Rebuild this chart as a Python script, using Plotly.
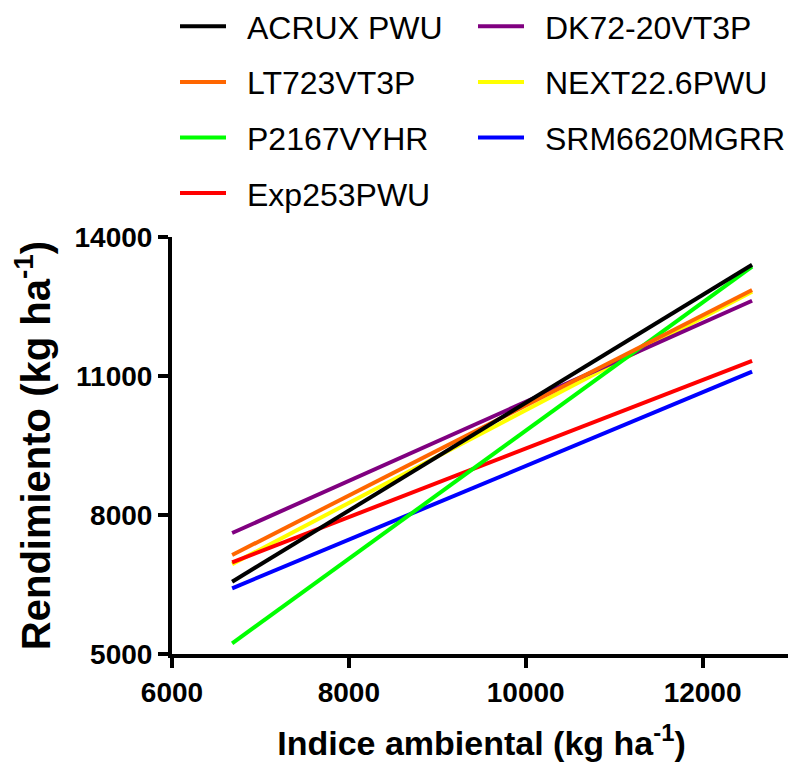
import plotly.graph_objects as go

# Data
x_range_pts = [6680, 12560]
names = ["ACRUX PWU", "LT723VT3P", "P2167VYHR", "Exp253PWU",
         "DK72-20VT3P", "NEXT22.6PWU", "SRM6620MGRR"]
y_start = [6560, 7136, 5230, 6980, 7611, 6940, 6418]
y_end = [13400, 12856, 13360, 11324, 12625, 12820, 11093]
colors = ["#000000", "#FF6600", "#00FF00", "#FF0000",
          "#800080", "#FFFF00", "#0000FF"]
legend_ids = ["legend", "legend", "legend", "legend",
              "legend2", "legend2", "legend2"]
x_ticks = [6000, 8000, 10000, 12000]
x_ticklabels = ["6000", "8000", "10000", "12000"]
y_ticks = [5000, 8000, 11000, 14000]
y_ticklabels = ["5000", "8000", "11000", "14000"]

fig = go.Figure()
# draw in reverse order so the first series sits on top
for i in reversed(range(len(names))):
    fig.add_trace(go.Scatter(
        x=x_range_pts, y=[y_start[i], y_end[i]], mode="lines",
        name="\u2002" + names[i], line=dict(color=colors[i], width=4),
        legend=legend_ids[i], legendgroup=names[i], legendrank=i + 1,
        showlegend=True,
    ))

legend_common = dict(
    yanchor="top", xanchor="left",
    orientation="v", tracegroupgap=11, bgcolor="rgba(0,0,0,0)",
    font=dict(family="Liberation Sans, Arial", size=32, color="black"),
    itemwidth=46, traceorder="grouped",
)
# The page body has an 8px margin, so the figure is drawn 8px in.
# plot area in figure coords: x 164..783, y 229..646
pl, pr, pt, pb = 164, 783, 229, 646
W, H = 800, 754
pw = pr - pl
ph = pb - pt
leg_top = -9
fig.update_layout(
    width=W, height=H,
    paper_bgcolor="white", plot_bgcolor="white",
    margin=dict(l=pl, r=W - pr, t=pt, b=H - pb, autoexpand=False),
    font=dict(family="Liberation Sans, Arial", color="black"),
    legend=dict(x=(167 - pl) / pw, y=1 + (pt - leg_top) / ph, **legend_common),
    legend2=dict(x=(465 - pl) / pw, y=1 + (pt - leg_top) / ph, **legend_common),
    xaxis=dict(
        range=[6000, 13000], tickvals=x_ticks, ticktext=x_ticklabels,
        ticks="outside", ticklen=10,
        tickwidth=4, tickcolor="black", showline=True, linewidth=4,
        linecolor="black", showgrid=False, zeroline=False, automargin=False,
        tickfont=dict(size=28, weight="bold", color="black"),
        title=dict(text="Indice ambiental (kg ha<sup>-1</sup>)",
                   font=dict(size=34, weight="bold", color="black"),
                   standoff=27),
    ),
    yaxis=dict(
        range=[5000, 14000], tickvals=y_ticks, ticktext=y_ticklabels,
        ticks="outside", ticklen=10,
        tickwidth=4, tickcolor="black", showline=True, linewidth=4,
        linecolor="black", showgrid=False, zeroline=False, automargin=False,
        tickfont=dict(size=28, weight="bold", color="black"),
        title=dict(text="Rendimiento (kg ha<sup>-1</sup>)",
                   font=dict(size=40, weight="bold", color="black"),
                   standoff=14),
    ),
)

fig.write_html("out.html")
